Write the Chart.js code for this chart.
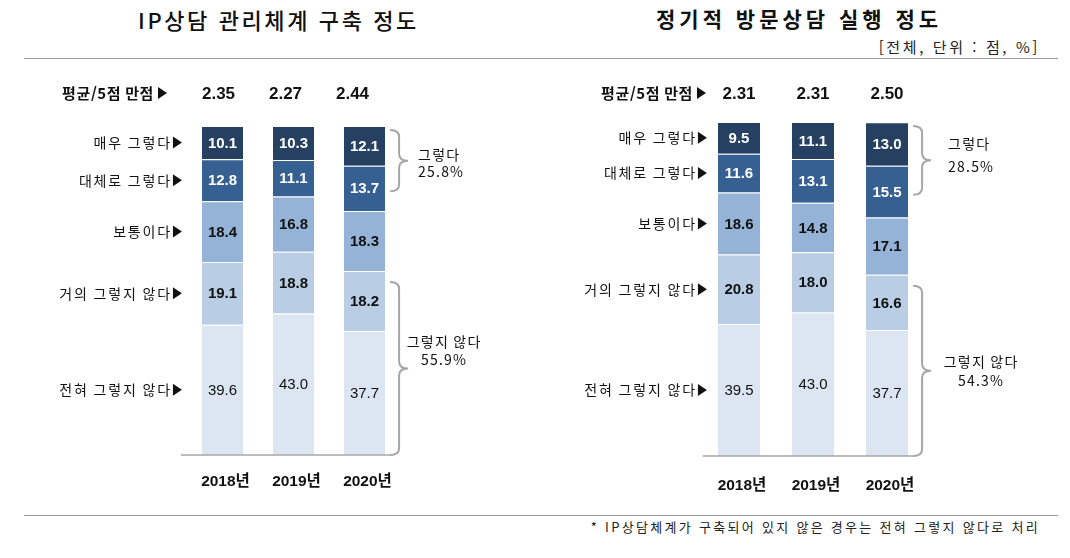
<!DOCTYPE html>
<html lang="ko">
<head>
<meta charset="UTF-8">
<title>IP상담 관리체계 / 정기적 방문상담</title>
<script src="https://cdn.jsdelivr.net/npm/chart.js@4.4.0/dist/chart.umd.min.js"></script>
<style>
    html, body { margin: 0; padding: 0; background: #fff; }
    body { width: 1070px; height: 558px; position: relative; overflow: hidden; font-family: "Noto Sans CJK KR", sans-serif; }
    canvas { position: absolute; left: 0; top: 0; }
    .title { position: absolute; top: 3px; font-size: 21px; color: #111; white-space: nowrap; }
    .rule { position: absolute; left: 24px; width: 1034px; height: 0; border-top: 1.5px solid #999; }
    .note { position: absolute; white-space: nowrap; color: #222; }
</style>
</head>
<body>
<div class="title" style="left:138px; font-size:22px; font-weight:500; letter-spacing:2.6px;">IP상담 관리체계 구축 정도</div>
<div class="title" style="left:656px; font-weight:700; letter-spacing:4px;">정기적 방문상담 실행 정도</div>
<div class="note" style="right:30px; top:36px; font-size:15px; letter-spacing:2.6px;">[전체, 단위 : 점, %]</div>
<div class="rule" style="top:58px;"></div>
<div class="rule" style="top:515px;"></div>
<div class="note" style="right:30px; top:517px; font-size:13px; letter-spacing:2.3px;">* IP상담체계가 구축되어 있지 않은 경우는 전혀 그렇지 않다로 처리</div>

<canvas id="chartIp" width="1070" height="558"></canvas>
<canvas id="chartVisit" width="1070" height="558"></canvas>

<script>
    // categories / labels
    var years = ['2018년', '2019년', '2020년'];
    var answerLabels = ['전혀 그렇지 않다', '거의 그렇지 않다', '보통이다', '대체로 그렇다', '매우 그렇다'];

    // IP상담 관리체계 구축 정도 (bottom -> top)
    var ipNever   = [39.6, 43.0, 37.7];
    var ipRarely  = [19.1, 18.8, 18.2];
    var ipNormal  = [18.4, 16.8, 18.3];
    var ipMostly  = [12.8, 11.1, 13.7];
    var ipVery    = [10.1, 10.3, 12.1];
    var ipAvg     = [2.35, 2.27, 2.44];
    var ipYesSum  = 25.8;
    var ipNoSum   = 55.9;

    // 정기적 방문상담 실행 정도
    var visitNever  = [39.5, 43.0, 37.7];
    var visitRarely = [20.8, 18.0, 16.6];
    var visitNormal = [18.6, 14.8, 17.1];
    var visitMostly = [11.6, 13.1, 15.5];
    var visitVery   = [9.5, 11.1, 13.0];
    var visitAvg    = [2.31, 2.31, 2.50];
    var visitYesSum = 28.5;
    var visitNoSum  = 54.3;

    var segColors = ['#DCE6F2', '#B9CDE5', '#95B3D7', '#366092', '#264062'];
    var KR = '"Noto Sans CJK KR", sans-serif';
    var NUM = '"Liberation Sans", "Noto Sans CJK KR", sans-serif';

    function brace(ctx, x0, w, yTop, yBot) {
        var yMid = (yTop + yBot) / 2;
        var xm = x0 + w / 2;
        var r = 7;
        ctx.beginPath();
        ctx.moveTo(x0, yTop);
        ctx.quadraticCurveTo(xm, yTop, xm, yTop + r);
        ctx.lineTo(xm, yMid - r);
        ctx.quadraticCurveTo(xm, yMid, x0 + w, yMid);
        ctx.quadraticCurveTo(xm, yMid, xm, yMid + r);
        ctx.lineTo(xm, yBot - r);
        ctx.quadraticCurveTo(xm, yBot, x0, yBot);
        ctx.stroke();
    }

    // small right-pointing marker after the category text
    function arrow(ctx, xr, yc) {
        ctx.beginPath();
        ctx.moveTo(xr - 9, yc - 6);
        ctx.lineTo(xr, yc);
        ctx.lineTo(xr - 9, yc + 6);
        ctx.closePath();
        ctx.fill();
    }

    var decorPlugin = {
        id: 'decor',
        afterDatasetsDraw: function(chart) {
            var o = chart.options.plugins.decor;
            var ctx = chart.ctx;
            var y = chart.scales.y;
            var x = chart.scales.x;
            var metas = chart.data.datasets.map(function(d, i) { return chart.getDatasetMeta(i); });
            var first = metas[0].data[0];
            var lastBar = metas[0].data[2];
            var barHalf = first.width / 2;
            ctx.save();

            // value labels inside segments
            ctx.textAlign = 'center';
            ctx.textBaseline = 'middle';
            metas.forEach(function(meta, i) {
                meta.data.forEach(function(bar, j) {
                    var v = chart.data.datasets[i].data[j];
                    ctx.fillStyle = i >= 3 ? '#fff' : '#111';
                    ctx.font = (i === 0 ? '' : 'bold ') + '15px ' + NUM;
                    ctx.fillText(v.toFixed(1), bar.x, (bar.y + bar.base) / 2 + 1);
                });
            });

            // baseline
            ctx.strokeStyle = '#A6A6A6';
            ctx.lineWidth = 1.5;
            ctx.beginPath();
            ctx.moveTo(first.x - barHalf - o.baseFrom, y.getPixelForValue(0));
            ctx.lineTo(lastBar.x + barHalf + 5, y.getPixelForValue(0));
            ctx.stroke();

            // category labels (aligned to first bar segments)
            ctx.fillStyle = '#111';
            ctx.textAlign = 'right';
            ctx.font = '14px ' + KR;
            ctx.letterSpacing = '1.8px';
            var lx = first.x - barHalf - o.labelGap;
            metas.forEach(function(meta, i) {
                var b = meta.data[0];
                var cy = (b.y + b.base) / 2;
                ctx.fillText(answerLabels[i], lx - 10, cy);
                arrow(ctx, lx, cy);
            });

            // averages row
            ctx.letterSpacing = '0.6px';
            ctx.font = 'bold 15px ' + KR;
            ctx.fillText('평균/5점 만점', o.avgLabelX - 13, 93);
            arrow(ctx, o.avgLabelX, 93);
            ctx.letterSpacing = '0px';
            ctx.textAlign = 'center';
            ctx.font = 'bold 17px ' + NUM;
            o.avg.forEach(function(v, j) {
                ctx.fillText(v.toFixed(2), x.getPixelForValue(j) + o.avgShift * (j + 1), 94);
            });

            // year labels
            ctx.font = 'bold 15.5px ' + NUM;
            years.forEach(function(t, j) {
                ctx.fillText(t, x.getPixelForValue(j) + 3, o.yearY);
            });

            // brackets on the last bar
            var bx = lastBar.x + barHalf + 5;
            ctx.strokeStyle = '#A6A6A6';
            ctx.lineWidth = 2;
            var mostly = metas[3].data[2];
            var topA = y.getPixelForValue(100) + 4;
            var botA = (mostly.y + mostly.base) / 2 + 3;
            brace(ctx, bx, 18, topA, botA);
            var topB = y.getPixelForValue(o.noSum) + 11;
            var botB = y.getPixelForValue(0);
            brace(ctx, bx, 18, topB, botB);

            ctx.fillStyle = '#111';
            ctx.font = '14px ' + KR;
            ctx.letterSpacing = '1.2px';
            var midA = (topA + botA) / 2;
            ctx.textAlign = 'left';
            ctx.fillText('그렇다', bx + 18 + o.yesDx, midA + o.yesDy[0]);
            ctx.fillText(o.yesSum.toFixed(1) + '%', bx + 18 + o.yesDx, midA + o.yesDy[1]);
            var midB = (topB + botB) / 2;
            ctx.textAlign = 'center';
            ctx.fillText('그렇지 않다', bx + 18 + o.noDx, midB + o.noDy[0]);
            ctx.fillText(o.noSum.toFixed(1) + '%', bx + 18 + o.noDx, midB + o.noDy[1]);
            ctx.restore();
        }
    };

    function makeChart(id, series, pad, barPct, decor) {
        var datasets = series.map(function(s, i) {
            return {
                label: answerLabels[i],
                data: s,
                backgroundColor: segColors[i],
                borderColor: 'rgba(255,255,255,0.5)',
                borderWidth: { top: 1, bottom: 0, left: 0, right: 0 },
                borderSkipped: false,
                barPercentage: barPct,
                categoryPercentage: 1
            };
        });
        return new Chart(document.getElementById(id), {
            type: 'bar',
            data: { labels: years, datasets: datasets },
            options: {
                responsive: false,
                animation: false,
                layout: { padding: pad },
                scales: {
                    x: { stacked: true, display: false },
                    y: { stacked: true, display: false, min: 0, max: 100 }
                },
                plugins: {
                    legend: { display: false },
                    tooltip: { enabled: false },
                    decor: decor
                }
            },
            plugins: [decorPlugin]
        });
    }

    makeChart('chartIp', [ipNever, ipRarely, ipNormal, ipMostly, ipVery],
        { left: 187, right: 670, top: 126, bottom: 103 }, 0.58,
        { avg: ipAvg, avgLabelX: 167, avgShift: -4, baseFrom: 21, labelGap: 20, yearY: 482,
          yesSum: ipYesSum, noSum: ipNoSum, yesDx: 10, yesDy: [-6, 11], noDx: 36, noDy: [-27, -9] });

    makeChart('chartVisit', [visitNever, visitRarely, visitNormal, visitMostly, visitVery],
        { left: 702, right: 146, top: 122, bottom: 102 }, 0.57,
        { avg: visitAvg, avgLabelX: 706, avgShift: 0, baseFrom: 15, labelGap: 11, yearY: 486,
          yesSum: visitYesSum, noSum: visitNoSum, yesDx: 17, yesDy: [-17, 6], noDx: 50, noDy: [-9, 10] });
</script>
</body>
</html>
